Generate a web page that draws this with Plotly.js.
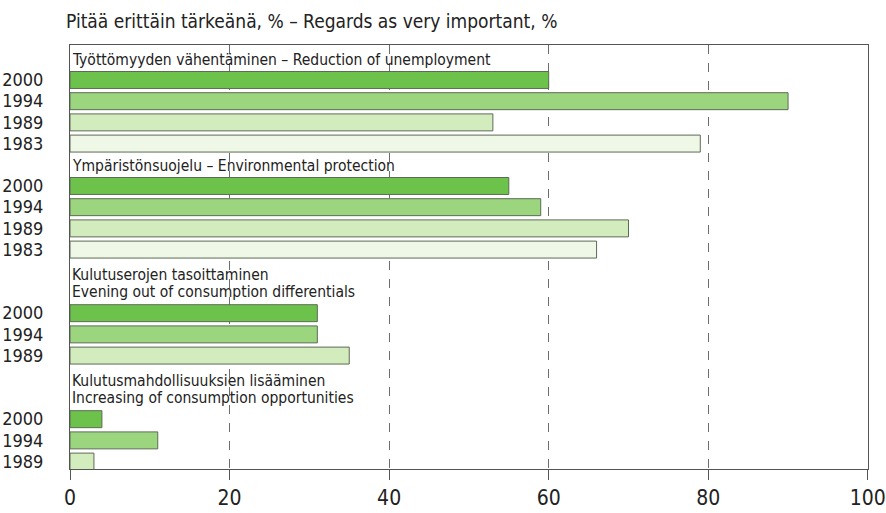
<!DOCTYPE html>
<html>
<head>
<meta charset="utf-8">
<script src="https://cdn.plot.ly/plotly-3.0.1.min.js"></script>
<style>html,body{margin:0;padding:0;background:#fff;}#chart{width:886px;height:513px;}</style>
</head>
<body>
<div id="chart"></div>
<script>
// ---- data ----
const titleText = "Pitää erittäin tärkeänä, % – Regards as very important, %";
const categories = [
  ["Työttömyyden vähentäminen – Reduction of unemployment"],
  ["Ympäristönsuojelu – Environmental protection"],
  ["Kulutuserojen tasoittaminen", "Evening out of consumption differentials"],
  ["Kulutusmahdollisuuksien lisääminen", "Increasing of consumption opportunities"]
];
const years = ["2000", "1994", "1989", "1983"];
const values2000 = [60, 55, 31, 4];
const values1994 = [90, 59, 31, 11];
const values1989 = [53, 70, 35, 3];
const values1983 = [79, 66, null, null];
const xTicks = [0, 20, 40, 60, 80, 100];

// ---- layout helpers ----
const FONT = "'Liberation Sans Narrow', 'DejaVu Sans Condensed', 'Arial Narrow', sans-serif";
const seriesValues = [values2000, values1994, values1989, values1983];
const colors = ["#6cc24a", "#9bd67e", "#d3ecbe", "#eff7e6"];

// compute row slots: each group = header lines + one row per year with data
let cursor = -1;
const rowPos = years.map(() => categories.map(() => null));
const tickVals = [], tickText = [], headerAnn = [];
categories.forEach((lines, g) => {
  const n = lines.length;
  const center = cursor + (n - 1) / 2 + 0.08;
  lines.forEach((t, i) => {
    headerAnn.push({
      x: 0, xref: "x", y: center + (i - (n - 1) / 2) * 0.8, yref: "y",
      text: t, showarrow: false, xanchor: "left", yanchor: "middle", xshift: 0,
      font: {family: FONT, size: 15.5, color: "#222"}
    });
  });
  cursor += n;
  years.forEach((yr, s) => {
    if (seriesValues[s][g] !== null && seriesValues[s][g] !== undefined) {
      rowPos[s][g] = cursor;
      tickVals.push(cursor);
      tickText.push(yr);
      cursor += 1;
    }
  });
});

const traces = years.map((yr, s) => {
  const xs = [], ys = [];
  categories.forEach((c, g) => {
    if (rowPos[s][g] !== null) { xs.push(seriesValues[s][g]); ys.push(rowPos[s][g]); }
  });
  return {
    type: "bar", orientation: "h", name: yr, x: xs, y: ys, width: 0.8,
    marker: {color: colors[s], line: {color: "#5d6b55", width: 1}},
    hoverinfo: "x+name"
  };
});

const layout = {
  width: 886, height: 513,
  margin: {l: 70, r: 18, t: 45, b: 44},
  paper_bgcolor: "#fff", plot_bgcolor: "#fff",
  showlegend: false,
  barmode: "overlay",
  title: {text: titleText, x: 66 / 886, xanchor: "left", xref: "container", y: 1 - 21/513, yref: "container", yanchor: "middle",
          font: {family: FONT, size: 19, color: "#222"}},
  xaxis: {
    range: [0, 100.02], tickvals: xTicks, ticktext: xTicks.map(String),
    showgrid: true, gridcolor: "#6d6d6d", gridwidth: 1, griddash: "dash",
    zeroline: false, showline: true, linecolor: "#555", linewidth: 1, mirror: true,
    ticks: "outside", ticklen: 10, tickcolor: "#555", tickwidth: 1,
    tickfont: {family: FONT, size: 21, color: "#222"}, fixedrange: true
  },
  yaxis: {
    range: [cursor - 0.65, -1.65], tickvals: tickVals, ticktext: tickText,
    showgrid: false, zeroline: false, showline: true, linecolor: "#555", linewidth: 1, mirror: true,
    ticks: "", ticklabelstandoff: 22,
    tickfont: {family: FONT, size: 18, color: "#222"}, fixedrange: true
  },
  annotations: headerAnn
};

Plotly.newPlot("chart", traces, layout, {displayModeBar: false, staticPlot: true});
</script>
</body>
</html>
